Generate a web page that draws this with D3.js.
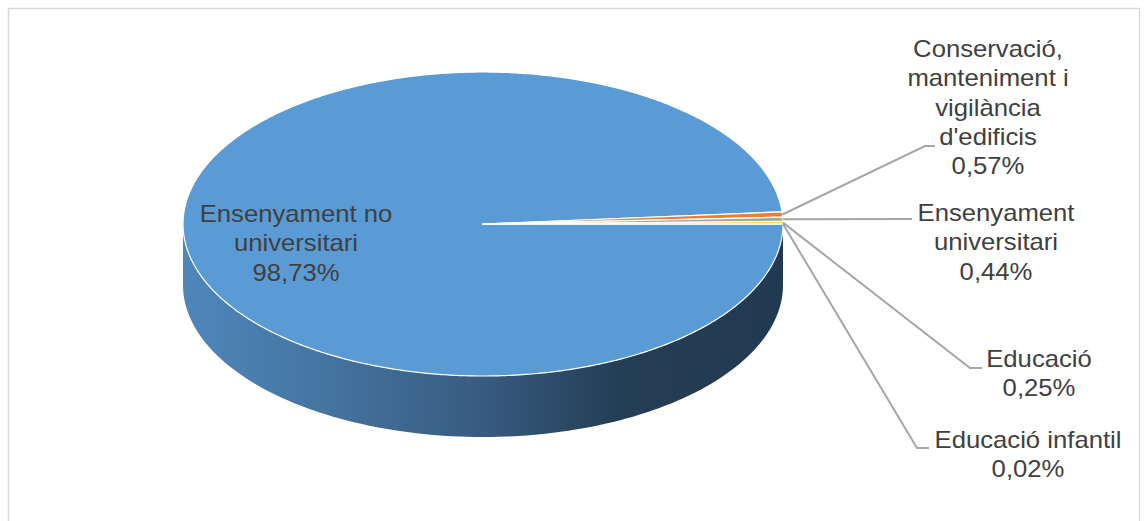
<!DOCTYPE html>
<html><head><meta charset="utf-8">
<script src="https://cdn.jsdelivr.net/npm/d3@7"></script>
<style>
html,body{margin:0;padding:0;background:#fff;}
svg{display:block;}
text{font-family:"Liberation Sans",Arial,sans-serif;fill:#404040;}
</style></head>
<body>
<svg id="chart" width="1147" height="521"></svg>
<script>
// ---- data ----
const categories = ["Ensenyament no universitari", "Conservació, manteniment i vigilància d'edificis", "Ensenyament universitari", "Educació", "Educació infantil"];
const values = [98.73, 0.57, 0.44, 0.25, 0.02];
const labelLines = [
  ["Ensenyament no", "universitari"],
  ["Conservació,", "manteniment i", "vigilància", "d'edificis"],
  ["Ensenyament", "universitari"],
  ["Educació"],
  ["Educació infantil"]
];
const colors = ["#5b9bd5", "#ed7d31", "#a5a5a5", "#ffc000", "#4472c4"];

// ---- layout ----
const cx = 483, cy = 224, rx = 300, ry = 152, depth = 61;
const fontSize = 24, lineH = 29.3;
// label anchors: center x, first baseline, leader end (elbow) and leader tail
const labelPos = [
  {x: 296, y: 222, inside: true},
  {x: 988, y: 57, elbow: [925, 146], tail: [935, 146]},
  {x: 996, y: 221, elbow: [912, 219], tail: [912, 219]},
  {x: 1039, y: 367, elbow: [970, 368], tail: [982, 368]},
  {x: 1028, y: 448, elbow: [917, 448], tail: [929, 448]}
];

const svg = d3.select("#chart");
svg.append("rect").attr("x", 8.5).attr("y", 8.5).attr("width", 1131).attr("height", 530)
  .attr("fill", "#fff").attr("stroke", "#d9d9d9").attr("stroke-width", 1.5);

const pie = d3.pie().sort(null).startAngle(Math.PI / 2).endAngle(Math.PI / 2 + 2 * Math.PI);
const arcsData = pie(values);

const px = a => cx + rx * Math.sin(a);
const py = (a, dz = 0) => cy - ry * Math.cos(a) + dz;

// gradient for the side
const defs = svg.append("defs");
const grad = defs.append("linearGradient").attr("id", "sideGrad")
  .attr("gradientUnits", "userSpaceOnUse")
  .attr("x1", cx - rx).attr("y1", 0).attr("x2", cx + rx).attr("y2", 0);
[[0, "#4f87bb"], [0.25, "#44739f"], [0.5, "#385b80"], [0.72, "#243e56"], [1, "#223a51"]]
  .forEach(([o, c]) => grad.append("stop").attr("offset", o).attr("stop-color", c));

// side band (front half of the big slice)
function sidePath() {
  const p = d3.path();
  const steps = 120;
  for (let i = 0; i <= steps; i++) {
    const a = Math.PI / 2 + Math.PI * i / steps;
    if (i === 0) p.moveTo(px(a), py(a)); else p.lineTo(px(a), py(a));
  }
  for (let i = steps; i >= 0; i--) {
    const a = Math.PI / 2 + Math.PI * i / steps;
    p.lineTo(px(a), py(a, depth));
  }
  p.closePath();
  return p.toString();
}
svg.append("path").attr("d", sidePath()).attr("fill", "url(#sideGrad)");

// top faces
function slicePath(d) {
  const p = d3.path();
  p.moveTo(cx, cy);
  const n = Math.max(2, Math.ceil((d.endAngle - d.startAngle) / 0.01));
  for (let i = 0; i <= n; i++) {
    const a = d.startAngle + (d.endAngle - d.startAngle) * i / n;
    p.lineTo(px(a), py(a));
  }
  p.closePath();
  return p.toString();
}
svg.selectAll("path.slice").data(arcsData).enter().append("path")
  .attr("class", "slice")
  .attr("d", slicePath)
  .attr("fill", (d, i) => colors[i])
  .attr("stroke", "#fff").attr("stroke-width", 1.2).attr("stroke-linejoin", "round");

// leader lines
const fmt = v => d3.format(".2f")(v).replace(".", ",") + "%";
arcsData.forEach((d, i) => {
  const lp = labelPos[i];
  if (lp.inside) return;
  const m = (d.startAngle + d.endAngle) / 2;
  const pts = [[px(m), py(m)], lp.elbow, lp.tail];
  svg.append("path").attr("d", d3.line()(pts))
    .attr("fill", "none").attr("stroke", "#a6a6a6").attr("stroke-width", 2);
});

// labels
arcsData.forEach((d, i) => {
  const lp = labelPos[i];
  const lines = labelLines[i].concat([fmt(values[i])]);
  const t = svg.append("text").attr("text-anchor", "middle")
    .attr("font-size", fontSize)
    .attr("transform", `translate(${lp.x},${lp.y}) scale(1.07,1)`);
  lines.forEach((s, k) => t.append("tspan").attr("x", 0).attr("y", k * lineH).text(s));
});
</script>
</body></html>
